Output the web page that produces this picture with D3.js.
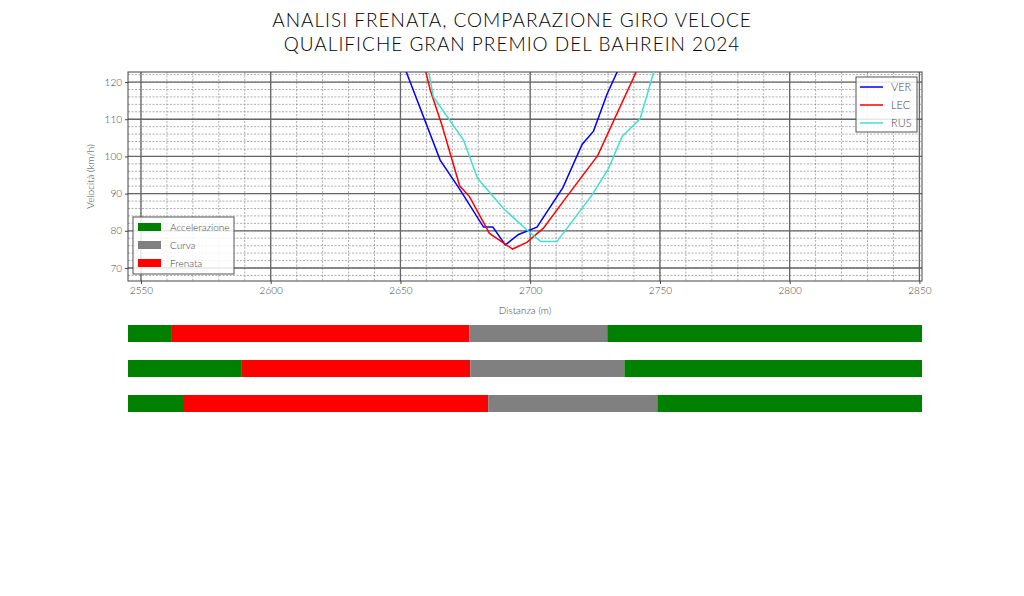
<!DOCTYPE html>
<html>
<head>
<meta charset="utf-8">
<script src="https://cdn.jsdelivr.net/npm/d3@7"></script>
<style>
body { margin: 0; background: #fff; }
text { font-family: Lato, "Noto Sans", sans-serif; font-weight: 300; fill: #444; }
</style>
</head>
<body>
<svg id="chart" width="1024" height="596"></svg>
<script>
// telemetry traces (distance m, speed km/h)
const verDist = [2650, 2652.2, 2665.3, 2673, 2682, 2685.6, 2690.4, 2695.5, 2702.6, 2712.6, 2720, 2724.4, 2729.6, 2735];
const verSpeed = [127, 122.8, 99, 91, 81, 81, 76.2, 79, 81, 91.6, 103.2, 106.8, 116.7, 125];
const lecDist = [2659, 2661.5, 2666, 2672.8, 2676.6, 2684.3, 2693.2, 2698.7, 2705.1, 2714.1, 2726, 2743];
const lecSpeed = [125, 117.8, 108.4, 92.1, 89.2, 79.3, 75.1, 76.9, 80.7, 89.2, 100.2, 126];
const rusDist = [2660, 2662.7, 2674.3, 2679.7, 2689.7, 2699.4, 2704.1, 2710.3, 2723.8, 2730.2, 2735.4, 2742.4, 2749];
const rusSpeed = [126, 116, 104.4, 94.1, 86, 79.8, 77.1, 77.1, 89.6, 96.8, 105.3, 110.2, 126];

const drivers = ["VER", "LEC", "RUS"];
const driverColors = ["#0000ff", "#ff0000", "#40e0d0"];

// phase boundaries per driver: [accel end, braking end, corner end]
const phaseBreaks = [
  [2561.6, 2676.5, 2729.7],
  [2588.6, 2676.9, 2736.3],
  [2566.2, 2683.8, 2749.0]
];
const phaseNames = ["Accelerazione", "Curva", "Frenata"];
const phaseColors = { "Accelerazione": "#008000", "Curva": "#808080", "Frenata": "#ff0000" };

const xTicks = [2550, 2600, 2650, 2700, 2750, 2800, 2850];
const yTicks = [70, 80, 90, 100, 110, 120];

const svg = d3.select("#chart");
const pLeft = 128, pRight = 922, pTop = 72, pBottom = 281;

const x = d3.scaleLinear().domain([2545, 2851]).range([pLeft, pRight]);
const y = d3.scaleLinear().domain([66.5, 122.7]).range([pBottom, pTop]);

// title
svg.append("text").attr("x", 512).attr("y", 27).attr("text-anchor", "middle")
  .style("font-size", "19px").style("fill", "#000").style("letter-spacing", "1px")
  .text("ANALISI FRENATA, COMPARAZIONE GIRO VELOCE");
svg.append("text").attr("x", 512).attr("y", 51).attr("text-anchor", "middle")
  .style("font-size", "19px").style("fill", "#000").style("letter-spacing", "1px")
  .text("QUALIFICHE GRAN PREMIO DEL BAHREIN 2024");

// grid
const grid = svg.append("g");
grid.selectAll(".vmin").data(d3.range(2550, 2851, 10)).enter().append("line")
  .attr("x1", d => x(d)).attr("x2", d => x(d)).attr("y1", pTop).attr("y2", pBottom)
  .attr("stroke", "#777").attr("stroke-width", 0.6).attr("stroke-dasharray", "2,1.5");
grid.selectAll(".hmin").data(d3.range(68, 123, 2)).enter().append("line")
  .attr("x1", pLeft).attr("x2", pRight).attr("y1", d => y(d)).attr("y2", d => y(d))
  .attr("stroke", "#777").attr("stroke-width", 0.6).attr("stroke-dasharray", "2,1.5");
grid.selectAll(".vmaj").data(xTicks).enter().append("line")
  .attr("x1", d => x(d)).attr("x2", d => x(d)).attr("y1", pTop).attr("y2", pBottom)
  .attr("stroke", "#666").attr("stroke-width", 1.3);
grid.selectAll(".hmaj").data(yTicks).enter().append("line")
  .attr("x1", pLeft).attr("x2", pRight).attr("y1", d => y(d)).attr("y2", d => y(d))
  .attr("stroke", "#666").attr("stroke-width", 1.3);

svg.append("rect").attr("x", pLeft).attr("y", pTop).attr("width", pRight - pLeft).attr("height", pBottom - pTop)
  .attr("fill", "none").attr("stroke", "#444").attr("stroke-width", 1);

// axes
const xAxis = svg.append("g").attr("transform", "translate(0," + pBottom + ")")
  .call(d3.axisBottom(x).tickValues(xTicks).tickSize(3).tickFormat(d3.format("d")));
const yAxis = svg.append("g").attr("transform", "translate(" + pLeft + ",0)")
  .call(d3.axisLeft(y).tickValues(yTicks).tickSize(3));
[xAxis, yAxis].forEach(a => {
  a.select(".domain").remove();
  a.selectAll("text").style("font-size", "10px").style("font-family", "Lato, sans-serif").style("fill", "#444");
  a.selectAll("line").attr("stroke", "#444");
});
svg.append("text").attr("x", (pLeft + pRight) / 2).attr("y", 314).attr("text-anchor", "middle")
  .style("font-size", "10px").text("Distanza (m)");
svg.append("text").attr("transform", "translate(94," + ((pTop + pBottom) / 2) + ") rotate(-90)")
  .attr("text-anchor", "middle").style("font-size", "10px").text("Velocità (km/h)");

// traces
svg.append("clipPath").attr("id", "clip").append("rect")
  .attr("x", pLeft).attr("y", pTop).attr("width", pRight - pLeft).attr("height", pBottom - pTop);
const traces = [[verDist, verSpeed], [lecDist, lecSpeed], [rusDist, rusSpeed]];
const line = d3.line().x(d => x(d[0])).y(d => y(d[1]));
traces.forEach((t, i) => {
  svg.append("path").attr("clip-path", "url(#clip)")
    .attr("d", line(d3.zip(t[0], t[1])))
    .attr("fill", "none").attr("stroke", driverColors[i]).attr("stroke-width", 1.5);
});

// driver legend
const lg = svg.append("g");
lg.append("rect").attr("x", 856).attr("y", 77).attr("width", 61).attr("height", 55)
  .attr("fill", "#fff").attr("fill-opacity", 0.85).attr("stroke", "#555");
drivers.forEach((d, i) => {
  const yy = 87 + i * 18;
  lg.append("line").attr("x1", 860).attr("x2", 883).attr("y1", yy).attr("y2", yy)
    .attr("stroke", driverColors[i]).attr("stroke-width", 1.5);
  lg.append("text").attr("x", 891).attr("y", yy + 4).style("font-size", "11px").text(d);
});

// phase legend
const pg = svg.append("g");
pg.append("rect").attr("x", 133).attr("y", 217).attr("width", 101).attr("height", 57)
  .attr("fill", "#fff").attr("fill-opacity", 0.85).attr("stroke", "#555");
phaseNames.forEach((p, i) => {
  const yy = 227 + i * 18;
  pg.append("rect").attr("x", 138).attr("y", yy - 4).attr("width", 23).attr("height", 8)
    .attr("fill", phaseColors[p]);
  pg.append("text").attr("x", 170).attr("y", yy + 4).style("font-size", "10px").text(p);
});

// phase bars
const barTops = [325, 360, 395];
phaseBreaks.forEach((b, i) => {
  const segs = [
    [2545, b[0], "Accelerazione"],
    [b[0], b[1], "Frenata"],
    [b[1], b[2], "Curva"],
    [b[2], 2851, "Accelerazione"]
  ];
  svg.selectAll(".bar" + i).data(segs).enter().append("rect")
    .attr("x", d => x(d[0])).attr("width", d => x(d[1]) - x(d[0]))
    .attr("y", barTops[i]).attr("height", 17)
    .attr("fill", d => phaseColors[d[2]]);
});
</script>
</body>
</html>
